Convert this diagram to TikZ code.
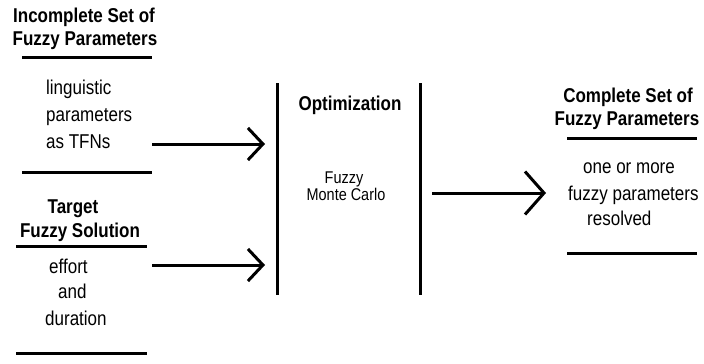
\documentclass[tikz,border=0pt]{standalone}
\usepackage{fontspec}
\setmainfont{Liberation Sans}[FakeStretch=0.85]
\usetikzlibrary{arrows.meta}

\begin{document}
\begin{tikzpicture}[x=1pt,y=-1pt,
    head/.style={font=\fontsize{20}{23}\selectfont\bfseries, inner sep=0pt, anchor=base},
    body/.style={font=\fontsize{20}{23}\selectfont, inner sep=0pt, anchor=base west},
    small/.style={font=\fontsize{17}{20}\selectfont, inner sep=0pt, anchor=base},
    bar/.style={line width=3pt},
    feed/.style={line width=3pt, -{Straight Barb[length=15pt,width=32pt]}}]
  \useasboundingbox (0,0) rectangle (704,364);

  % inputs: incomplete parameter set
  \node[head] (inc1) at (84,22) {Incomplete Set of};
  \node[head] (inc2) at (85,45) {Fuzzy Parameters};
  \draw[bar] (22,57) -- (152,57);
  \node[body] (ling1) at (46,94) {linguistic};
  \node[body] (ling2) at (46,121) {parameters};
  \node[body] (ling3) at (46,148) {as TFNs};
  \draw[bar] (22,172) -- (152,172);

  % inputs: target solution
  \node[head] (tgt1) at (73,213) {Target};
  \node[head] (tgt2) at (80,237) {Fuzzy Solution};
  \draw[bar] (16,246) -- (147,246);
  \node[body] (eff1) at (49,273) {effort};
  \node[body] (eff2) at (58,298) {and};
  \node[body] (eff3) at (45,325) {duration};
  \draw[bar] (16,353) -- (147,353);

  % optimization block
  \draw[bar] (277,83) -- (277,295);
  \draw[bar] (420,83) -- (420,295);
  \node[head] (opt) at (350,110) {Optimization};
  \node[small] (fmc1) at (344,183) {Fuzzy};
  \node[small] (fmc2) at (346,200) {Monte Carlo};

  % output: complete parameter set
  \node[head] (out1) at (628,102) {Complete Set of};
  \node[head] (out2) at (627,125) {Fuzzy Parameters};
  \draw[bar] (567,138) -- (697,138);
  \node[body] (res1) at (583,173) {one or more};
  \node[body] (res2) at (568,200) {fuzzy parameters};
  \node[body] (res3) at (587,225) {resolved};
  \draw[bar] (567,253) -- (697,253);

  % arrows
  \coordinate (src1) at (152,144);
  \coordinate (dst1) at (265,144);
  \coordinate (src2) at (152,265);
  \coordinate (dst2) at (265,265);
  \coordinate (src3) at (432,193);
  \coordinate (dst3) at (546,193);
  \draw[feed] (src1) -- (dst1);
  \draw[feed] (src2) -- (dst2);
  \draw[feed, -{Straight Barb[length=19pt,width=43pt]}] (src3) -- (dst3);
\end{tikzpicture}
\end{document}
